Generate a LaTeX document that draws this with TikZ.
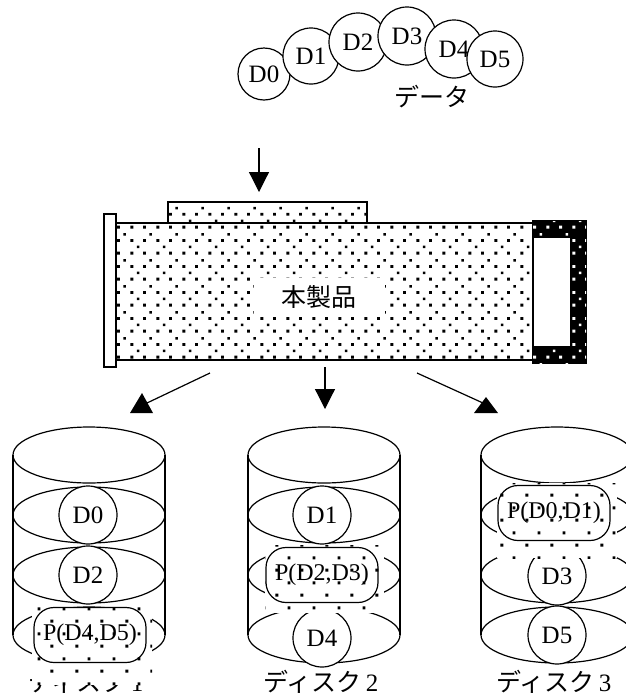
\documentclass[tikz,border=0pt]{standalone}
\usepackage{fontspec}
\setmainfont{Liberation Serif}
\newfontfamily\jp{Noto Sans CJK JP}
\usetikzlibrary{positioning}
\usetikzlibrary{patterns}
\usetikzlibrary{arrows.meta}

% dense dots for the unit, sparse dots for the parity blocks
\pgfdeclarepatternformonly{boxdots}{\pgfpointorigin}{\pgfpoint{26pt}{26pt}}{\pgfpoint{26pt}{26pt}}{%
  \pgfpathrectangle{\pgfpoint{0.5pt}{0.5pt}}{\pgfpoint{3pt}{3pt}}
  \pgfpathrectangle{\pgfpoint{13.5pt}{0.5pt}}{\pgfpoint{3pt}{3pt}}
  \pgfpathrectangle{\pgfpoint{0.5pt}{13.5pt}}{\pgfpoint{3pt}{3pt}}
  \pgfpathrectangle{\pgfpoint{13.5pt}{13.5pt}}{\pgfpoint{3pt}{3pt}}
  \pgfpathrectangle{\pgfpoint{7pt}{7pt}}{\pgfpoint{2.6pt}{2.6pt}}
  \pgfpathrectangle{\pgfpoint{20pt}{20pt}}{\pgfpoint{2.6pt}{2.6pt}}
  \pgfusepath{fill}}
\pgfdeclarepatternformonly{paritydots}{\pgfpointorigin}{\pgfpoint{25pt}{25pt}}{\pgfpoint{25pt}{25pt}}{%
  \pgfpathrectangle{\pgfpoint{0.5pt}{0.5pt}}{\pgfpoint{3pt}{3pt}}
  \pgfpathrectangle{\pgfpoint{13pt}{13pt}}{\pgfpoint{3pt}{3pt}}
  \pgfusepath{fill}}

\tikzstyle{block}=[draw, circle, fill=white, inner sep=0pt, minimum size=58pt, font=\fontsize{25}{28}\selectfont]
\tikzstyle{parity}=[draw, rounded corners=20pt, minimum width=112pt, minimum height=55pt, inner sep=0pt, font=\fontsize{24}{28}\selectfont]
\tikzstyle{lbl}=[inner sep=0pt, font=\fontsize{25}{28}\selectfont]
\tikzstyle{unitfill}=[draw, fill=white, postaction={pattern=boxdots}]
\tikzstyle{sparse}=[fill=white, postaction={pattern=paritydots}]
\tikzstyle{tip}=[-{Triangle[width=20pt, length=20pt]}]

\begin{document}
\begin{tikzpicture}[x=1pt, y=-1pt, line width=1.2pt]
\useasboundingbox (0,0) rectangle (625,697);

% incoming data
\node[block, minimum size=52pt] (d0) at (264,74) {D0};
\node[block, minimum size=56pt] (d1) at (311,56) {D1};
\node[block, minimum size=58pt] (d2) at (358,42) {D2};
\node[block, minimum size=58pt] (d3) at (407,36) {D3};
\node[block, minimum size=58pt] (d4) at (454,49) {D4};
\node[block, minimum size=56pt] (d5) at (495,59) {D5};
\node[lbl] (data) at (432,97) {\jp データ};

\coordinate (in1) at (259,148);
\coordinate (in2) at (259,192);
\draw[tip] (in1) -- (in2);

% the unit
\draw[fill=white] (104,214) rectangle (116,367);
\draw[unitfill] (168,202) rectangle (367,223);
\draw[unitfill] (116,223) rectangle (533,360);
\draw[fill=black, postaction={pattern=boxdots, pattern color=white}] (533,221) rectangle (586,363);
\draw[fill=white] (533,237) rectangle (571,347);
\node[lbl, fill=white, inner xsep=28pt, inner ysep=7pt] (unit) at (319,297) {\jp 本製品};

% outgoing stripes
\coordinate (o1) at (210,373);
\coordinate (o1e) at (147,403);
\coordinate (o2) at (325,367);
\coordinate (o2e) at (325,409);
\coordinate (o3) at (417,373);
\coordinate (o3e) at (483,403);
\draw (o1) -- (o1e);
\fill (142,393) -- (153,413) -- (130,413) -- cycle;
\draw[tip] (o2) -- (o2e);
\draw (o3) -- (o3e);
\fill (486,397) -- (498,413) -- (474,413) -- cycle;

% disks
\foreach \x/\n in {89/1, 324/2, 557/3} {
  \node[lbl] (disk\n) at (\x-3,682) {{\jp ディスク}\,\n};
  \draw (\x,635) ellipse (76pt and 28pt);
  \draw (\x,575) ellipse (76pt and 28pt);
  \draw (\x,515) ellipse (76pt and 28pt);
  \draw (\x,455) ellipse (76pt and 28pt);
  \draw (\x-76,455) -- (\x-76,635) (\x+76,455) -- (\x+76,635);
}

% disk 1
\node[block] (a0) at (88,515) {D0};
\node[block] (a2) at (88,575) {D2};
\path[sparse] (32,607) rectangle (152,685);
\node[parity] (p1) at (90,635) {P(D4,D5)};

% disk 2
\node[block] (b1) at (322,515) {D1};
\node[block] (b4) at (322,638) {D4};
\path[sparse] (265,545) rectangle (384,613);
\node[parity] (p2) at (322,575) {P(D2,D3)};

% disk 3
\node[block] (c3) at (557,576) {D3};
\node[block] (c5) at (557,635) {D5};
\path[sparse] (497,483) rectangle (617,558);
\node[parity] (p3) at (554,513) {P(D0,D1)};
\end{tikzpicture}
\end{document}
